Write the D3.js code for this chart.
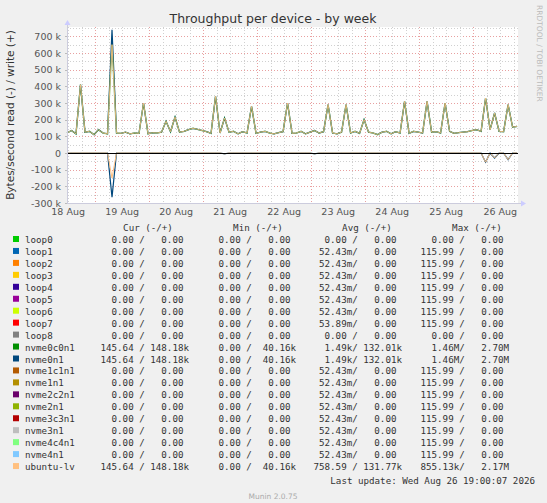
<!DOCTYPE html>
<html><head><meta charset="utf-8">
<script src="https://cdn.jsdelivr.net/npm/d3@7"></script>
<style>body{margin:0;background:#f0f0f0}text{font-family:"DejaVu Sans",sans-serif}.mono{font-family:"DejaVu Sans Mono",monospace;font-size:9.2px;fill:#333;white-space:pre}</style>
</head><body><div id="chart"></div>
<script>
// write values (k bytes/s), one sample every 2 hours from 18 Aug 11:30
var writeK = [120,135,115,410,125,130,110,140,120,115,
  650,120,118,125,115,120,118,300,115,122,
  120,125,190,128,215,125,130,140,148,142,
  135,128,118,340,120,210,125,130,115,128,
  120,280,118,125,130,120,115,122,128,300,
  118,120,130,115,125,135,120,128,290,120,
  115,125,290,120,130,118,200,125,120,110,
  125,130,115,128,120,310,118,130,125,120,
  310,125,128,120,300,130,118,122,125,128,
  135,140,130,330,140,240,130,128,290,155,160];
// read values (k), drawn negative
var readK = [];
for (var i = 0; i < writeK.length; i++) readK.push(0);
readK[10] = 150; readK[35] = 5; readK[55] = 5; readK[93] = 55; readK[95] = 30; readK[98] = 40;
var blueSpikeWrite = 740, blueSpikeRead = 265;

var names = ["loop0","loop1","loop2","loop3","loop4","loop5","loop6","loop7","loop8","nvme0c0n1","nvme0n1","nvme1c1n1","nvme1n1","nvme2c2n1","nvme2n1","nvme3c3n1","nvme3n1","nvme4c4n1","nvme4n1","ubuntu-lv"];
var colors = ["#00CC00","#0066B3","#FF8000","#FFCC00","#330099","#990099","#CCFF00","#FF0000","#808080","#008F00","#00487D","#B35A00","#B38F00","#6B006B","#8FB300","#B30000","#BEBEBE","#80FF80","#80C9FF","#FFC080"];
var z = "  0.00 /   0.00 ", m = "52.43m/   0.00 ", mx = "115.99 /   0.00 ";
var curCol = [z,z,z,z,z,z,z,z,z,"145.64 / 148.18k","145.64 / 148.18k",z,z,z,z,z,z,z,z,"145.64 / 148.18k"];
var minCol = [z,z,z,z,z,z,z,z,z,"  0.00 /  40.16k","  0.00 /  40.16k",z,z,z,z,z,z,z,z,"  0.00 /  40.16k"];
var avgCol = [z,m,m,m,m,m,m,"53.89m/   0.00 ",z,"  1.49k/ 132.01k","  1.49k/ 132.01k",m,m,m,m,m,m,m,m,"758.59 / 131.77k"];
var maxCol = [z,mx,mx,mx,mx,mx,mx,mx,z,"  1.46M/   2.70M","  1.46M/   2.70M",mx,mx,mx,mx,mx,mx,mx,mx,"855.13k/   2.17M"];
var dayLabels = ["18 Aug","19 Aug","20 Aug","21 Aug","22 Aug","23 Aug","24 Aug","25 Aug","26 Aug"];

var W = 547, H = 503;
var svg = d3.select("#chart").append("svg").attr("width", W).attr("height", H);
svg.append("rect").attr("width", W).attr("height", H).attr("fill", "#f0f0f0");

var pLeft = 67, pRight = 518, pTop = 27, pBottom = 203;
var t0 = new Date(2026, 7, 18, 11, 30);
var t1 = new Date(t0.getTime() + 200.4 * 3600e3);
var x = d3.scaleTime().domain([t0, t1]).range([pLeft, pRight]);
var y = d3.scaleLinear().domain([-300, 750]).range([pBottom, pTop + 1]);
var tAt = function (i) { return new Date(t0.getTime() + i * 2 * 3600e3); };

svg.append("rect").attr("x", pLeft).attr("y", pTop).attr("width", pRight - pLeft).attr("height", pBottom - pTop).attr("fill", "#fff");

// grid
var g = svg.append("g");
d3.range(-300, 751, 50).forEach(function (v) {
  g.append("line").attr("x1", pLeft).attr("x2", pRight).attr("y1", Math.round(y(v)) + .5).attr("y2", Math.round(y(v)) + .5)
    .attr("stroke", v % 100 === 0 ? "#e8a0a0" : "#d0d0d0").attr("stroke-dasharray", "1,2");
});
d3.timeHour.every(6).range(t0, t1).forEach(function (d) {
  var midnight = d.getHours() === 0;
  g.append("line").attr("x1", Math.round(x(d)) + .5).attr("x2", Math.round(x(d)) + .5).attr("y1", pTop).attr("y2", pBottom)
    .attr("stroke", midnight ? "#e8a0a0" : "#d0d0d0").attr("stroke-dasharray", "1,2");
});

// y ticks
d3.range(-300, 701, 100).forEach(function (v) {
  svg.append("text").attr("x", pLeft - 6).attr("y", y(v) + 3.5).attr("text-anchor", "end")
    .attr("font-size", 9.5).attr("fill", "#555").text(v === 0 ? "0" : v + " k");
  svg.append("line").attr("x1", pLeft - 2).attr("x2", pLeft).attr("y1", Math.round(y(v)) + .5).attr("y2", Math.round(y(v)) + .5).attr("stroke", "#bbb");
});
dayLabels.forEach(function (s, i) {
  var d = new Date(2026, 7, 18 + i, 12);
  svg.append("text").attr("x", x(d)).attr("y", pBottom + 12).attr("text-anchor", "middle")
    .attr("font-size", 9.5).attr("fill", "#555").text(s);
});

// series
var lineW = d3.line().x(function (d, i) { return x(tAt(i)); }).y(function (d) { return y(d); });
var blueW = writeK.slice(); blueW[10] = blueSpikeWrite;
var blueR = readK.map(function (v) { return -v; }); blueR[10] = -blueSpikeRead;
var negR = readK.map(function (v) { return -v; });
svg.append("path").attr("d", lineW(blueW)).attr("fill", "none").attr("stroke", "#00487D").attr("stroke-width", 1.2);
svg.append("path").attr("d", lineW(blueR)).attr("fill", "none").attr("stroke", "#00487D").attr("stroke-width", 1.2);
svg.append("path").attr("d", lineW(writeK)).attr("fill", "none").attr("stroke", "#008F00").attr("stroke-width", 1.4).attr("opacity", .5);
svg.append("path").attr("d", lineW(writeK)).attr("fill", "none").attr("stroke", "#FFC080").attr("stroke-width", 1).attr("opacity", .85);
svg.append("path").attr("d", lineW(negR)).attr("fill", "none").attr("stroke", "#FFC080").attr("stroke-width", 1);

// axes
svg.append("line").attr("x1", pLeft).attr("x2", pRight).attr("y1", Math.round(y(0)) + .5).attr("y2", Math.round(y(0)) + .5).attr("stroke", "#000");
svg.append("line").attr("x1", pLeft + .5).attr("x2", pLeft + .5).attr("y1", pTop - 4).attr("y2", pBottom).attr("stroke", "#ccd");
svg.append("line").attr("x1", pLeft).attr("x2", pRight + 4).attr("y1", pBottom + .5).attr("y2", pBottom + .5).attr("stroke", "#ccd");
svg.append("path").attr("d", "M" + (pLeft - 2.5) + "," + (pTop - 2) + "l3,-5l3,5z").attr("fill", "#ccf");
svg.append("path").attr("d", "M" + (pRight + 3) + "," + (pBottom - 2.5) + "l5,3l-5,3z").attr("fill", "#ccf");

// titles
svg.append("text").attr("x", 273).attr("y", 23).attr("text-anchor", "middle").attr("font-size", 12.5).attr("fill", "#333")
  .text("Throughput per device - by week");
svg.append("text").attr("transform", "translate(14,115) rotate(-90)").attr("text-anchor", "middle").attr("font-size", 10.5)
  .attr("fill", "#333").text("Bytes/second read (-) / write (+)");
svg.append("text").attr("transform", "translate(537,5) rotate(90)").attr("font-size", 7.5).attr("fill", "#bbb")
  .text("RRDTOOL / TOBI OETIKER");

// legend
var headY = 231;
[["Cur (-/+)", 148], ["Min (-/+)", 258], ["Avg (-/+)", 367], ["Max (-/+)", 477]].forEach(function (h) {
  svg.append("text").attr("class", "mono").attr("x", h[1]).attr("y", headY).attr("text-anchor", "middle").text(h[0]);
});
names.forEach(function (n, i) {
  var yy = 243 + i * 11.95;
  svg.append("rect").attr("x", 13).attr("y", yy - 7).attr("width", 6).attr("height", 6).attr("fill", colors[i]);
  svg.append("text").attr("class", "mono").attr("x", 25).attr("y", yy).text(n);
  [[curCol, 189], [minCol, 296], [avgCol, 402], [maxCol, 509]].forEach(function (c) {
    svg.append("text").attr("class", "mono").attr("x", c[1]).attr("y", yy).attr("text-anchor", "end").text(c[0][i]);
  });
});
svg.append("text").attr("class", "mono").attr("x", 535).attr("y", 484).attr("text-anchor", "end")
  .text("Last update: Wed Aug 26 19:00:07 2026");
svg.append("text").attr("x", 273).attr("y", 499).attr("text-anchor", "middle").attr("font-size", 7.5).attr("fill", "#aaa")
  .text("Munin 2.0.75");
</script></body></html>
